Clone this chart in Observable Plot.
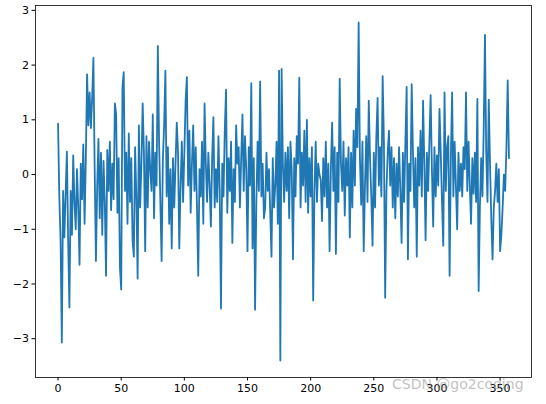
<!DOCTYPE html>
<html>
<head>
<meta charset="utf-8">
<script src="https://cdn.jsdelivr.net/npm/d3@7"></script>
<script src="https://cdn.jsdelivr.net/npm/@observablehq/plot@0.6"></script>
<style>
  body { margin: 0; background: #fff; }
  #wrap { position: relative; width: 546px; height: 404px; }
  #wm { position: absolute; left: 392px; top: 376px; font: 14px "DejaVu Sans", sans-serif; color: rgba(140,140,140,0.55); white-space: nowrap; }
</style>
</head>
<body>
<div id="wrap"><div id="chart"></div><div id="wm">CSDN @go2coding</div></div>
<script>
const values = [
  0.93, -0.4, -1.2, -3.07, -0.3, -1.15, -0.35, 0.42, -1.2, -2.43,
  -0.3, -1.1, 0.35, -0.5, -1.0, 0.1, -0.6, -1.65, 0.2, -0.45,
  0.55, -0.9, 0.3, 1.83, 0.9, 1.5, 0.85, 1.4, 2.13, 0.1,
  -1.58, -0.2, 0.65, -0.8, 0.4, -1.1, 0.25, -0.5, -1.85, 0.45,
  -0.3, 0.6, -0.65, 0.2, -0.45, 1.3, 1.1, -0.7, 0.3, -1.7,
  -2.1, 1.6, 1.87, -0.3, 0.4, -0.9, 0.75, -0.5, 0.3, -1.2,
  -1.5, 0.5, -0.4, -1.9, 0.9, -0.6, 0.2, 1.3, 0.4, -1.4,
  0.7, -0.6, 0.6, 0.1, -0.3, 1.1, -0.8, 0.4, -0.2, 2.35,
  0.6, -0.5, -1.58, 0.3, 0.9, 1.9, -0.4, 0.5, -0.9, 0.1,
  -1.35, 0.3, -0.6, 0.2, 0.95, 0.4, -1.35, -0.2, 0.6, -0.5,
  0.4, 1.35, 1.78, -0.2, 0.8, -0.7, 0.2, 0.9, -0.3, 0.5,
  -0.6, -1.85, 0.1, -0.4, 0.6, -0.9, 1.3, 0.2, -0.5, 0.4,
  -0.2, -0.95, 0.3, 1.05, -0.6, 0.1, -0.5, 0.7, -0.3, -2.45,
  0.2, -0.4, 0.8, 1.55, -0.7, 0.3, -0.3, 0.6, -1.25, 0.1,
  -0.5, 0.9, 0.2, 0.5, -0.6, 0.3, 1.1, -0.3, 0.7, 0.1,
  -1.4, 0.5, -0.2, 1.67, -1.35, 0.3, -2.47, -0.5, 0.6, -0.3,
  1.7, -0.4, 0.2, -0.8, -0.6, 0.4, -0.3, 0.1, -0.7, -1.5,
  0.3, -0.6, -0.2, 0.6, -0.9, 1.9, -3.4, 1.93, 0.2, -0.5,
  0.4, -0.3, 0.5, -0.8, 0.6, 0.1, -1.55, 0.3, -0.4, 0.7,
  0.2, 1.77, -0.6, 0.4, -0.2, 0.8, -0.5, 1.0, -0.7, 0.3,
  -0.4, 0.5, -2.3, -0.3, 0.6, -0.5, 0.2, 0.0, -0.1, -0.85,
  0.3, -0.4, 0.6, -0.6, 0.2, -1.4, 0.1, 0.95, -0.3, 0.5,
  -1.45, 0.4, -0.5, 1.75, 0.2, -0.3, 0.6, -0.75, 0.3, -0.2,
  0.5, -1.15, 0.4, -0.6, 0.8, -0.2, 1.2, 0.5, 2.78, 0.3,
  -0.55, 0.6, -1.4, -0.2, 0.7, -0.5, 1.35, 0.3, -0.4, -1.3,
  0.4, -0.6, 0.7, 1.4, -0.2, 0.5, -0.4, 1.8, 0.6, -2.25,
  -0.3, 0.4, 0.8, -0.2, 0.5, -0.6, 0.3, -0.8, 0.2, -0.4,
  0.5, -0.3, -1.25, 0.4, -0.5, 0.6, 1.6, -1.55, 0.2, -0.3,
  1.65, 0.4, -0.6, 0.3, -1.5, 0.5, -0.2, 0.8, -0.4, 1.35,
  0.2, -1.2, 0.4, -0.3, 0.6, 1.45, 0.1, -0.95, 0.5, -0.4,
  0.35, -0.2, 1.2, 0.4, -0.5, -1.3, 1.5, -0.3, 0.5, 0.7,
  -1.85, 0.3, 1.5, -0.4, 0.6, -0.2, -1.0, 0.4, -0.3, 0.2,
  -0.4, 0.5, 0.1, 1.5, -0.3, 0.6, -0.2, -0.9, 0.3, -0.35,
  0.4, -0.5, 1.38, -2.13, -0.6, 0.3, -0.4, 0.8, 2.55, 0.4,
  -0.5, 1.37, 0.2, -0.8, -1.55, -0.6, -0.3, 0.2, -0.5, 0.1,
  -1.4, -1.1, -0.6, 0.0, -0.3, 0.5, 1.72, 0.3
];
const xTicks = [0, 50, 100, 150, 200, 250, 300, 350];
const yTicks = [-3, -2, -1, 0, 1, 2, 3];

const data = values.map((v, i) => ({i, v}));
const n = values.length - 1;
const ymin = d3.min(values), ymax = d3.max(values);
const yr = ymax - ymin;

const chart = Plot.plot({
  width: 546,
  height: 404,
  marginLeft: 35,
  marginRight: 15,
  marginTop: 5,
  marginBottom: 27,
  style: {fontFamily: "DejaVu Sans, sans-serif", fontSize: "11px", color: "#000", background: "#fff"},
  x: {domain: [-0.05 * n, 1.05 * n], ticks: xTicks, tickFormat: d3.format("d"), tickSize: 3.5, tickPadding: 3, label: null},
  y: {domain: [ymin - 0.05 * yr, ymax + 0.05 * yr], ticks: yTicks, tickFormat: d3.format("d"), tickSize: 3.5, tickPadding: 3, label: null},
  marks: [
    Plot.line(data, {x: "i", y: "v", stroke: "#1f77b4", strokeWidth: 1.8}),
    Plot.frame({stroke: "#000", strokeWidth: 0.8})
  ]
});
document.getElementById("chart").appendChild(chart);
</script>
</body>
</html>
